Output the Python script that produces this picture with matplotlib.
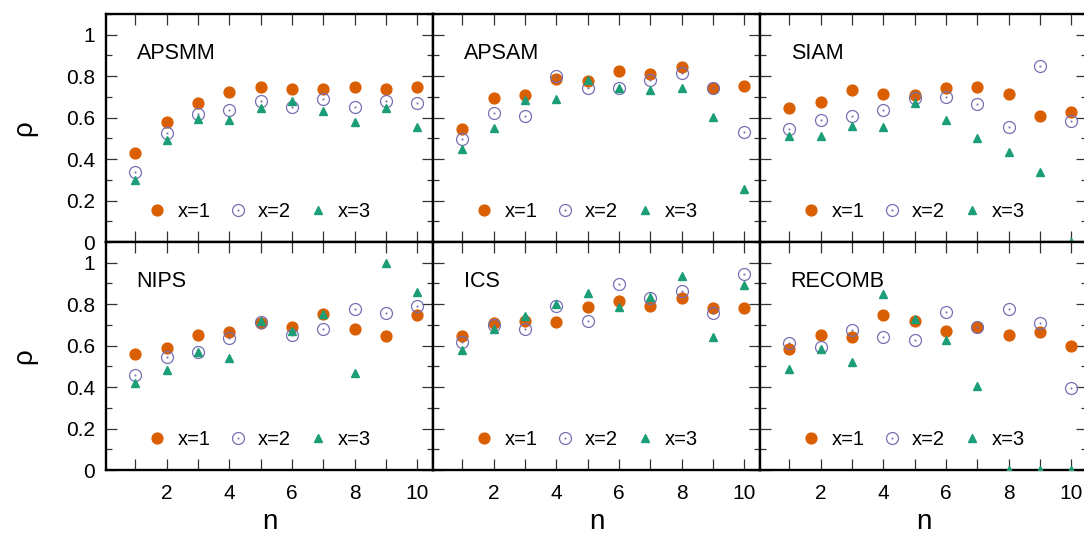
import matplotlib
matplotlib.use('Agg')
import matplotlib.pyplot as plt
from matplotlib.path import Path
from matplotlib.ticker import MultipleLocator

plt.rcParams['font.family'] = ['Liberation Sans', 'DejaVu Sans']

n = [1, 2, 3, 4, 5, 6, 7, 8, 9, 10]
xtick_labels = ['', '2', '', '4', '', '6', '', '8', '', '10']
ytick_vals = [0, 0.2, 0.4, 0.6, 0.8, 1.0]
ytick_labels = ['0', '0.2', '0.4', '0.6', '0.8', '1']
series_labels = ['x=1', 'x=2', 'x=3']

apsmm_x1 = [0.43, 0.58, 0.67, 0.725, 0.748, 0.74, 0.74, 0.748, 0.74, 0.748]
apsmm_x2 = [0.34, 0.525, 0.617, 0.637, 0.682, 0.652, 0.692, 0.652, 0.682, 0.672]
apsmm_x3 = [0.298, 0.49, 0.593, 0.588, 0.646, 0.68, 0.634, 0.58, 0.646, 0.553]

apsam_x1 = [0.547, 0.695, 0.708, 0.786, 0.777, 0.823, 0.809, 0.845, 0.742, 0.752]
apsam_x2 = [0.498, 0.621, 0.61, 0.801, 0.742, 0.742, 0.783, 0.817, 0.745, 0.53]
apsam_x3 = [0.45, 0.55, 0.683, 0.69, 0.78, 0.745, 0.732, 0.743, 0.603, 0.254]

siam_x1 = [0.648, 0.676, 0.733, 0.713, 0.711, 0.745, 0.746, 0.713, 0.608, 0.627]
siam_x2 = [0.544, 0.587, 0.606, 0.638, 0.697, 0.698, 0.665, 0.555, 0.847, 0.586]
siam_x3 = [0.512, 0.509, 0.558, 0.557, 0.671, 0.587, 0.504, 0.433, 0.337, 0.0]

nips_x1 = [0.56, 0.589, 0.651, 0.665, 0.71, 0.69, 0.755, 0.68, 0.648, 0.747]
nips_x2 = [0.457, 0.545, 0.568, 0.637, 0.712, 0.649, 0.678, 0.779, 0.759, 0.79]
nips_x3 = [0.422, 0.484, 0.568, 0.54, 0.717, 0.669, 0.755, 0.47, 1.0, 0.859]

ics_x1 = [0.648, 0.71, 0.719, 0.716, 0.788, 0.814, 0.793, 0.828, 0.78, 0.78]
ics_x2 = [0.616, 0.7, 0.678, 0.793, 0.72, 0.897, 0.828, 0.862, 0.756, 0.945]
ics_x3 = [0.579, 0.68, 0.742, 0.801, 0.856, 0.787, 0.835, 0.936, 0.643, 0.892]

recomb_x1 = [0.584, 0.651, 0.64, 0.747, 0.717, 0.67, 0.691, 0.649, 0.664, 0.598]
recomb_x2 = [0.611, 0.593, 0.676, 0.64, 0.629, 0.763, 0.688, 0.776, 0.711, 0.397]
recomb_x3 = [0.486, 0.584, 0.523, 0.849, 0.729, 0.627, 0.403, 0.0, 0.0, 0.0]

panels = [
    ('APSMM', apsmm_x1, apsmm_x2, apsmm_x3),
    ('APSAM', apsam_x1, apsam_x2, apsam_x3),
    ('SIAM', siam_x1, siam_x2, siam_x3),
    ('NIPS', nips_x1, nips_x2, nips_x3),
    ('ICS', ics_x1, ics_x2, ics_x3),
    ('RECOMB', recomb_x1, recomb_x2, recomb_x3),
]

c_orange = '#d95f02'
c_purple = '#7570b3'
c_green = '#1b9e77'

# open circle with a small dot in the middle, like gnuplot
ring_dot = Path.make_compound_path(Path.unit_circle(), Path.circle((0, 0), 0.07))

W, H = 1084, 533
fig = plt.figure(figsize=(W / 100, H / 100), dpi=100)

col_left = [106, 433, 760]
row_bottom = [242, 470]
pw, ph = 327, 228

for i, (name, y1, y2, y3) in enumerate(panels):
    r, c = divmod(i, 3)
    ax = fig.add_axes([col_left[c] / W, (H - row_bottom[r]) / H, pw / W, ph / H])
    ax.plot(n, y1, ls='none', marker='o', ms=7.8, color=c_orange, label=series_labels[0], zorder=3)
    ax.plot(n, y2, ls='none', marker=ring_dot, ms=8.6, mfc='none', mec=c_purple, mew=0.9,
            label=series_labels[1], zorder=3)
    ax.plot(n, y3, ls='none', marker='^', ms=5.8, color=c_green, label=series_labels[2], zorder=3)

    ax.set_xlim(0.07, 10.5)
    ax.set_ylim(0, 1.1)
    ax.set_xticks(n)
    ax.set_yticks(ytick_vals)
    ax.yaxis.set_minor_locator(MultipleLocator(0.1))
    ax.tick_params(which='both', direction='in', top=True, right=True,
                   color='#333333', width=0.9, labelsize=15)
    ax.tick_params(which='major', length=8, pad=8)
    ax.tick_params(which='minor', length=4)
    ax.tick_params(axis='x', pad=10)
    for s in ax.spines.values():
        s.set_linewidth(1.7)

    if r == 1:
        ax.set_xticklabels(xtick_labels)
        ax.set_xlabel('n', fontsize=20)
        ax.xaxis.set_label_coords(0.5, -0.17)
    else:
        ax.set_xticklabels([])
    if c == 0:
        ax.set_yticklabels(ytick_labels)
        ax.set_ylabel('ρ', fontsize=20)
        ax.yaxis.set_label_coords(-0.21, 0.5)
    else:
        ax.set_yticklabels([])

    ax.text(0.094, 0.803, name, transform=ax.transAxes, fontsize=15.5, va='baseline')

    ax.legend(loc='center left', bbox_to_anchor=(0.126, 0.135), ncol=3, frameon=False,
              fontsize=14.5, handlelength=1.0, handletextpad=0.5, columnspacing=0.85,
              borderpad=0, borderaxespad=0)

fig.savefig('out.png', dpi=100)
